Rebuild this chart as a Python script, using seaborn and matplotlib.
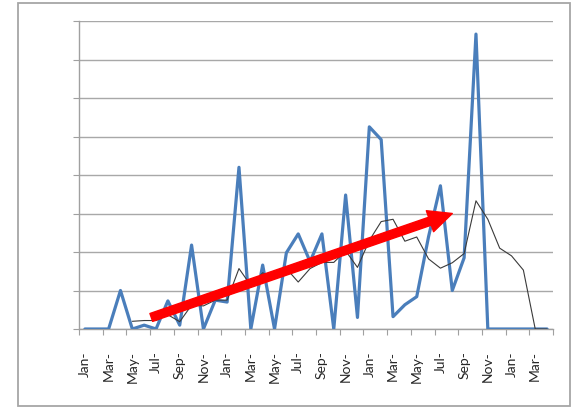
import numpy as np
import pandas as pd
import matplotlib
matplotlib.use("Agg")
import matplotlib.pyplot as plt
from matplotlib.patches import Rectangle
from matplotlib.ticker import FixedLocator
import seaborn as sns

# ---- data ----
months = ["Jan", "Feb", "Mar", "Apr", "May", "Jun", "Jul", "Aug", "Sep", "Oct", "Nov", "Dec"] * 3 + ["Jan", "Feb", "Mar", "Apr"]
monthly_values = [0, 0, 0, 1.0, 0, 0.1, 0, 0.73, 0.1, 2.18,
                  0, 0.75, 0.7, 4.2, 0, 1.66, 0, 1.98, 2.47, 1.75,
                  2.47, 0, 3.48, 0.3, 5.25, 4.92, 0.32, 0.63, 0.84, 2.4,
                  3.72, 1.0, 1.85, 7.66, 0, 0, 0, 0, 0, 0]
# thin moving-average line, first point at the 5th month
avg_values = [None, None, None, None, 0.2, 0.22, 0.22, 0.37, 0.19, 0.62,
              0.60, 0.75, 0.75, 1.57, 1.13, 1.46, 1.31, 1.57, 1.22, 1.57,
              1.73, 1.73, 2.03, 1.60, 2.30, 2.79, 2.85, 2.28, 2.39, 1.82,
              1.58, 1.72, 1.96, 3.33, 2.85, 2.10, 1.90, 1.53, 0, 0]
tick_labels = [m + "-" for m in months[::2]]

df = pd.DataFrame({"idx": np.arange(len(monthly_values)),
                   "value": monthly_values,
                   "avg": pd.to_numeric(pd.Series(avg_values), errors="coerce")})

sns.set_theme(style="white")
plt.rcParams["font.family"] = ["Lato", "DejaVu Sans"]

fig = plt.figure(figsize=(5.76, 4.08), dpi=100)
ax = fig.add_axes([79 / 576, 1 - 329 / 408, 474 / 576, 308 / 408])

# outer chart frame
fig.patches.append(Rectangle((18 / 576, 1 - 406 / 408), 552 / 576, 403 / 408,
                             transform=fig.transFigure, fill=False,
                             edgecolor="#a6a6a6", linewidth=1.3, zorder=0))

ax.set_xlim(-0.5, len(monthly_values) - 0.5)
ax.set_ylim(0, 8)
ax.yaxis.set_major_locator(FixedLocator(np.arange(0, 9)))
ax.set_yticklabels([])
ax.grid(axis="y", color="#a8a8a8", linewidth=1.0)
ax.set_axisbelow(True)

sns.lineplot(data=df, x="idx", y="value", ax=ax, color="#4a7ebb",
             linewidth=2.3, zorder=3)
sns.lineplot(data=df.dropna(), x="idx", y="avg", ax=ax, color="#3a3a3a",
             linewidth=0.8, zorder=4)

ax.annotate("", xy=(31.0, 3.0), xytext=(5.6, 0.3),
            arrowprops=dict(arrowstyle="simple,head_length=0.85,head_width=0.8,tail_width=0.3",
                            color="#ff0000", mutation_scale=20,
                            shrinkA=0, shrinkB=0),
            zorder=6)

ax.set_xticks(np.arange(0, len(monthly_values), 2))
ax.set_xticklabels(tick_labels, rotation=90, fontsize=10, color="#262626")
ax.set_xticks(np.arange(-0.5, len(monthly_values), 2), minor=True)
ax.tick_params(axis="x", which="major", length=0, pad=16)
ax.tick_params(axis="x", which="minor", length=4, width=0.8, color="#a0a0a0",
               direction="out", bottom=True)
ax.tick_params(axis="y", which="major", length=4, width=0.8, color="#a0a0a0",
               direction="out", left=True)
ax.set_xlabel("")
ax.set_ylabel("")
for side in ["top", "right"]:
    ax.spines[side].set_visible(False)
for side in ["left", "bottom"]:
    ax.spines[side].set_color("#a0a0a0")
    ax.spines[side].set_linewidth(1.0)

fig.savefig("out.png", dpi=100)
